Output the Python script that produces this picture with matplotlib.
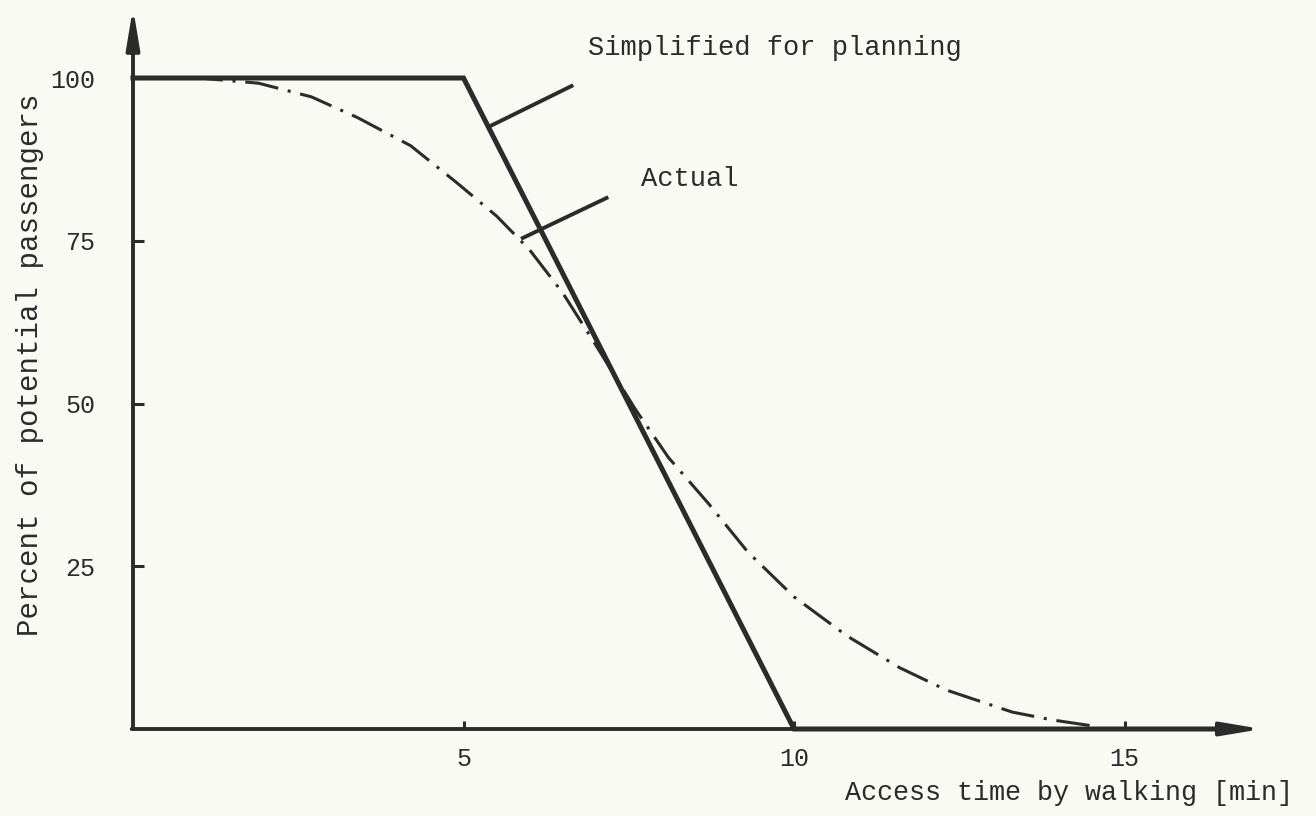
import matplotlib
matplotlib.use('Agg')
import matplotlib.pyplot as plt

# --- data ---
plan_x = [0, 5, 10, 16.5]
plan_y = [100, 100, 0, 0]

actual_x = [0, 1.0, 1.9, 2.7, 3.4, 4.2, 4.9, 5.5, 6.0, 6.5, 7.0, 7.6, 8.1,
            8.7, 9.3, 10.0, 10.8, 11.6, 12.3, 13.3, 13.9, 14.5]
actual_y = [100, 100, 99.2, 97.1, 93.9, 89.6, 83.9, 78.8, 73.6, 67.0, 59.0,
            49.1, 41.7, 34.7, 27.2, 20.3, 14.3, 9.4, 6.0, 2.6, 1.4, 0.5]

x_ticks = [5, 10, 15]
y_ticks = [25, 50, 75, 100]

INK = '#2b2b2b'
BG = '#fafaf5'
FONT = ['Liberation Mono', 'DejaVu Sans Mono']

plt.rcParams['font.family'] = FONT

fig = plt.figure(figsize=(13.16, 8.16), dpi=100, facecolor=BG)
ax = fig.add_axes([133 / 1316, 87 / 816, 1137 / 1316, 722.6 / 816])
ax.set_facecolor(BG)
ax.set_xlim(0, 17.2)
ax.set_ylim(0, 111)
for s in ax.spines.values():
    s.set_visible(False)

# axes with long narrow arrow heads
arrow = dict(arrowstyle='-|>,head_length=1.2,head_width=0.2', color=INK,
             lw=2.8, mutation_scale=20, shrinkA=0, shrinkB=0)
ax.annotate('', xy=(0, 110.8), xytext=(0, 0), arrowprops=arrow, annotation_clip=False)
ax.annotate('', xy=(17.08, 0), xytext=(-0.02, 0), arrowprops=arrow, annotation_clip=False)

# curves
ax.plot(plan_x, plan_y, color=INK, lw=3.6, solid_joinstyle='miter', clip_on=False, zorder=3)
ax.plot(actual_x, actual_y, color=INK, lw=2.2, linestyle=(0, (11, 3.2, 1, 3.2)), zorder=2)

# ticks
ax.set_xticks(x_ticks)
ax.set_yticks(y_ticks)
ax.set_yticklabels([str(v) for v in y_ticks])
ax.tick_params(axis='y', direction='in', length=8, width=2.2, color=INK,
               labelsize=18, labelcolor=INK, pad=27)
ax.tick_params(axis='x', direction='in', length=6, width=2.2, color=INK,
               labelsize=18, labelcolor=INK, pad=13)

# leader lines and their labels
ax.plot([5.40, 6.66], [92.6, 98.9], color=INK, lw=2.8, solid_capstyle='butt')
ax.plot([5.87, 7.19], [75.3, 81.7], color=INK, lw=2.8, solid_capstyle='butt')
ax.text(6.88, 104.6, 'Simplified for planning', fontsize=19.5, color=INK,
        ha='left', va='center')
ax.text(7.69, 84.5, 'Actual', fontsize=19.5, color=INK, ha='left', va='center')

fig.text(30 / 1316, 1 - 365 / 816, 'Percent of potential passengers', rotation=90,
         fontsize=21, color=INK, ha='center', va='center')
fig.text(1293 / 1316, 1 - 793 / 816, 'Access time by walking [min]',
         fontsize=19.3, color=INK, ha='right', va='center')

fig.savefig('out.png', dpi=100, facecolor=BG)
